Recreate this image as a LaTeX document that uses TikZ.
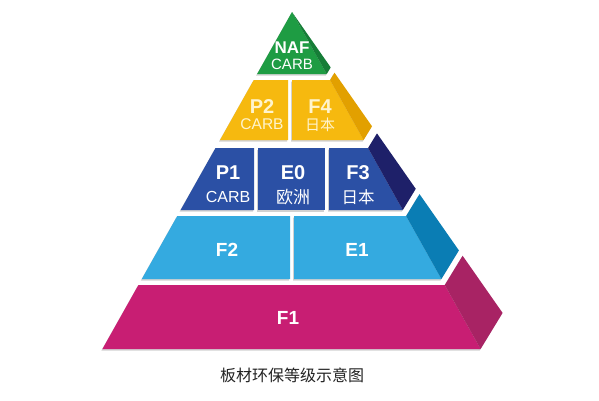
\documentclass[tikz,border=0pt]{standalone}
\usepackage{fontspec}
\setmainfont{Liberation Sans}
\newfontfamily\cjk{Noto Sans CJK SC}
\definecolor{gF}{RGB}{30,156,67}
\definecolor{gS}{RGB}{22,125,55}
\definecolor{yF}{RGB}{246,185,15}
\definecolor{yS}{RGB}{226,160,0}
\definecolor{bF}{RGB}{43,80,165}
\definecolor{bS}{RGB}{30,32,105}
\definecolor{lF}{RGB}{52,170,224}
\definecolor{lS}{RGB}{10,125,180}
\definecolor{mF}{RGB}{200,30,115}
\definecolor{mS}{RGB}{168,35,100}
\definecolor{cream}{RGB}{255,244,205}
\definecolor{capt}{RGB}{35,35,35}
\begin{document}
\begin{tikzpicture}[x=1pt,y=-1pt,
  shade/.style={fill=black!40,opacity=0.45,shift={(-1,1.5)}},
  lab/.style={inner sep=0pt,align=center,text=white},
  code/.style={lab,font=\bfseries\fontsize{20}{20}\selectfont},
  sub/.style={lab,font=\fontsize{16}{16}\selectfont},
  zh/.style={lab,font=\cjk\fontsize{16.5}{16.5}\selectfont}]
\useasboundingbox (0,0) rectangle (599,400);
\fill[white] (0,0) rectangle (599,400);
% shapes as paths
\def\pG{(292,12) -- (326.7,74) -- (257.1,74) -- cycle}
\def\sG{(292,12) -- (330.7,67.4) -- (326.7,74) -- cycle}
\def\pPtwo{(253.75,80) -- (288,80) -- (288,140) -- (220,140) -- cycle}
\def\pFfour{(292,80) -- (330.05,80) -- (363.6,140) -- (292,140) -- cycle}
\def\sY{(330.05,80) -- (334.5,72.7) -- (372,126.3) -- (363.6,140) -- cycle}
\def\pPone{(215.5,148) -- (254,148) -- (254,210) -- (180.6,210) -- cycle}
\def\pEzero{(258,148) -- (325,148) -- (325,210) -- (258,210) -- cycle}
\def\pFthree{(329,148) -- (368.1,148) -- (402.8,210) -- (329,210) -- cycle}
\def\sB{(368.1,148) -- (377,133.4) -- (415.75,188.8) -- (402.8,210) -- cycle}
\def\pFtwo{(177.25,216) -- (290,216) -- (290,279) -- (141.8,279) -- cycle}
\def\pEone{(294,216) -- (406.1,216) -- (441.4,279) -- (294,279) -- cycle}
\def\sL{(406.1,216) -- (419.5,194.1) -- (458.9,250.4) -- (441.4,279) -- cycle}
\def\pFone{(138.4,285) -- (444.75,285) -- (480.6,349) -- (102.4,349) -- cycle}
\def\sM{(444.75,285) -- (462.6,255.75) -- (502.6,312.9) -- (480.6,349) -- cycle}
% shadows
\foreach \p in {\pG,\sG,\pPtwo,\pFfour,\sY,\pPone,\pEzero,\pFthree,\sB,\pFtwo,\pEone,\sL,\pFone,\sM}
  {\fill[shade] \p;}
% faces
\fill[gF] \pG; \fill[gS] \sG;
\fill[yF] \pPtwo; \fill[yF] \pFfour; \fill[yS] \sY;
\fill[bF] \pPone; \fill[bF] \pEzero; \fill[bF] \pFthree; \fill[bS] \sB;
\fill[lF] \pFtwo; \fill[lF] \pEone; \fill[lS] \sL;
\fill[mF] \pFone; \fill[mS] \sM;
% labels
\node[code,font=\bfseries\fontsize{17}{17}\selectfont] (naf) at (292,47.5) {NAF};
\node[sub,font=\fontsize{15}{15}\selectfont] (carbG) at (292,64.5) {CARB};
\node[code,text=cream] (p2) at (262,106.5) {P2};
\node[sub,text=cream,font=\fontsize{15.5}{15.5}\selectfont] (carbY) at (262,124) {CARB};
\node[code,text=cream] (f4) at (320,106.5) {F4};
\node[zh,text=cream,font=\cjk\fontsize{15}{15}\selectfont] (jpY) at (320,125) {日本};
\node[code] (p1) at (228,172.5) {P1};
\node[sub] (carbB) at (228,197) {CARB};
\node[code] (e0) at (293,172.5) {E0};
\node[zh,font=\cjk\fontsize{17}{17}\selectfont] (eu) at (293,197) {欧洲};
\node[code] (f3) at (358,172.5) {F3};
\node[zh] (jpB) at (358,197) {日本};
\node[code,font=\bfseries\fontsize{19}{19}\selectfont] (f2) at (227,250) {F2};
\node[code,font=\bfseries\fontsize{19}{19}\selectfont] (e1) at (357,250) {E1};
\node[code,font=\bfseries\fontsize{19}{19}\selectfont] (f1) at (288,318) {F1};
\node[inner sep=0pt,text=capt,font=\cjk\fontsize{16}{16}\selectfont] (cap) at (292,375) {板材环保等级示意图};
\end{tikzpicture}
\end{document}
